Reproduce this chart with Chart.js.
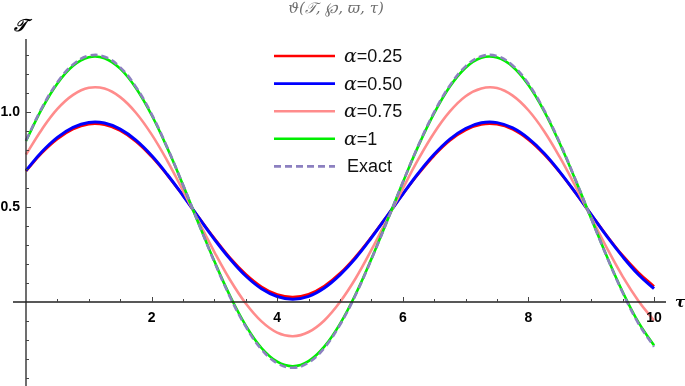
<!DOCTYPE html>
<html>
<head>
<meta charset="utf-8">
<script src="https://cdn.jsdelivr.net/npm/chart.js@4.4.1/dist/chart.umd.min.js"></script>
<style>
  html, body { margin: 0; padding: 0; background: #fff; }
  #wrap { width: 685px; height: 386px; position: relative; }
</style>
</head>
<body>
<div id="wrap"><canvas id="grafica" width="685" height="386"></canvas></div>
<script>
const tau = [0, 0.25, 0.5, 0.75, 1, 1.25, 1.5, 1.75, 2, 2.25, 2.5, 2.75, 3, 3.25, 3.5, 3.75, 4, 4.25, 4.5, 4.75, 5,
             5.25, 5.5, 5.75, 6, 6.25, 6.5, 6.75, 7, 7.25, 7.5, 7.75, 8, 8.25, 8.5, 8.75, 9, 9.25, 9.5, 9.75, 10];

const alpha025 = [0.689, 0.783, 0.858, 0.910, 0.936, 0.933, 0.902, 0.845, 0.765, 0.668, 0.560, 0.446, 0.335, 0.232, 0.146, 0.080, 0.039, 0.026, 0.041, 0.084, 0.151,
                  0.239, 0.342, 0.453, 0.567, 0.675, 0.771, 0.850, 0.905, 0.934, 0.935, 0.908, 0.854, 0.777, 0.682, 0.574, 0.461, 0.349, 0.245, 0.156, 0.082];
const alpha050 = [0.692, 0.789, 0.866, 0.919, 0.945, 0.942, 0.910, 0.852, 0.771, 0.671, 0.560, 0.444, 0.330, 0.226, 0.137, 0.070, 0.029, 0.015, 0.030, 0.074, 0.143,
                  0.232, 0.338, 0.452, 0.568, 0.679, 0.777, 0.857, 0.913, 0.943, 0.944, 0.916, 0.861, 0.783, 0.685, 0.575, 0.460, 0.345, 0.239, 0.145, 0.070];
const alpha075 = [0.776, 0.907, 1.016, 1.090, 1.127, 1.123, 1.078, 0.996, 0.882, 0.743, 0.586, 0.423, 0.263, 0.116, -0.008, -0.102, -0.161, -0.180, -0.158, -0.097, 0.000,
                  0.125, 0.274, 0.434, 0.597, 0.753, 0.891, 1.003, 1.083, 1.124, 1.126, 1.086, 1.009, 0.899, 0.762, 0.608, 0.445, 0.284, 0.135, 0.007, -0.098];
const alpha1 = [0.847, 1.015, 1.150, 1.243, 1.288, 1.283, 1.228, 1.126, 0.984, 0.810, 0.616, 0.412, 0.214, 0.031, -0.124, -0.242, -0.314, -0.338, -0.311, -0.235, -0.115,
                0.042, 0.227, 0.426, 0.629, 0.823, 0.994, 1.134, 1.233, 1.285, 1.286, 1.238, 1.142, 1.005, 0.834, 0.642, 0.440, 0.239, 0.054, -0.106, -0.228];
const exacta = [0.850, 1.020, 1.156, 1.250, 1.296, 1.291, 1.235, 1.132, 0.989, 0.813, 0.617, 0.412, 0.211, 0.026, -0.130, -0.249, -0.322, -0.346, -0.319, -0.242, -0.120,
                0.038, 0.224, 0.425, 0.630, 0.826, 0.999, 1.140, 1.240, 1.293, 1.294, 1.245, 1.148, 1.010, 0.838, 0.644, 0.439, 0.237, 0.050, -0.112, -0.235];

const etiquetas = ['α=0.25', 'α=0.50', 'α=0.75', 'α=1', 'Exact'];
const xTicks = [2, 4, 6, 8, 10];
const yTicks = [0.5, 1.0];

function puntos(ys) {
    var out = [];
    for (var i = 0; i < tau.length; i++) {
        out.push({x: tau[i], y: ys[i]});
    }
    return out;
}

// ejes estilo Mathematica, leyenda y titulos
const ejes = {
    id: 'ejes',
    afterDatasetsDraw(chart) {
        const c = chart.ctx;
        const sx = chart.scales.x, sy = chart.scales.y;
        const x0 = sx.getPixelForValue(0), y0 = sy.getPixelForValue(0);
        const area = chart.chartArea;
        c.save();
        c.strokeStyle = '#222';
        c.lineWidth = 1.3;
        c.beginPath();
        c.moveTo(area.left, y0); c.lineTo(area.right, y0);
        c.moveTo(x0, area.top); c.lineTo(x0, area.bottom);
        c.stroke();

        c.lineWidth = 1;
        c.strokeStyle = '#444';
        c.beginPath();
        for (var v = 0.5; v <= 10; v += 0.5) {
            var px = Math.round(sx.getPixelForValue(v)) + 0.5;
            var len = (Math.abs(v % 2) < 1e-6) ? 5 : 3;
            c.moveTo(px, y0); c.lineTo(px, y0 - len);
        }
        for (var k = -4; k <= 13; k++) {
            if (k === 0) continue;
            var py = Math.round(sy.getPixelForValue(k / 10)) + 0.5;
            var l = (k % 5 === 0) ? 5 : 3;
            c.moveTo(x0, py); c.lineTo(x0 + l, py);
        }
        c.stroke();

        c.fillStyle = '#000';
        c.font = 'bold 14px "Liberation Sans", Arial, sans-serif';
        c.textAlign = 'center';
        c.textBaseline = 'middle';
        xTicks.forEach(function(t) {
            c.fillText(String(t), sx.getPixelForValue(t), y0 + 16);
        });
        c.textAlign = 'right';
        yTicks.forEach(function(t) {
            c.fillText(t.toFixed(1), x0 - 6, sy.getPixelForValue(t));
        });

        // etiquetas de ejes
        c.font = 'italic bold 15px "DejaVu Serif", serif';
        c.textAlign = 'left';
        c.fillText('τ', area.right + 9, y0 + 1);
        c.font = 'italic bold 17px "DejaVu Serif", "Noto Sans", serif';
        c.textAlign = 'center';
        c.fillText('𝒯', 20, 27);

        // titulo
        c.fillStyle = '#6e6e6e';
        c.font = 'italic 15px "DejaVu Serif", serif';
        c.fillText('ϑ(𝒯, ℘, ϖ, τ)', 336, 9);

        // leyenda
        const ds = chart.data.datasets;
        for (var i = 0; i < ds.length; i++) {
            var yy = 56 + i * 27.6;
            c.strokeStyle = ds[i].borderColor;
            c.lineWidth = 2.6;
            c.setLineDash(ds[i].borderDash || []);
            c.beginPath();
            c.moveTo(274, yy); c.lineTo(335, yy);
            c.stroke();
            c.setLineDash([]);
            c.fillStyle = '#111';
            c.textAlign = 'left';
            var txt = etiquetas[i];
            if (txt.charAt(0) === 'α') {
                c.font = 'italic 19px "DejaVu Serif", serif';
                c.fillText('α', 344, yy + 1);
                var w = c.measureText('α').width;
                c.font = '18px "Liberation Sans", Arial, sans-serif';
                c.fillText(txt.slice(1), 344 + w, yy + 1);
            } else {
                c.font = '18px "Liberation Sans", Arial, sans-serif';
                c.fillText(txt, 347, yy + 1);
            }
        }
        c.restore();
    }
};

const ctx = document.getElementById('grafica');
new Chart(ctx, {
    type: 'line',
    data: {
        datasets: [{
            label: etiquetas[0],
            data: puntos(alpha025),
            borderColor: '#ff0000',
            borderWidth: 2.6,
            order: 5
        },
        {
            label: etiquetas[1],
            data: puntos(alpha050),
            borderColor: '#0000ff',
            borderWidth: 3,
            order: 4
        },
        {
            label: etiquetas[2],
            data: puntos(alpha075),
            borderColor: '#ff8c8c',
            borderWidth: 2.6,
            order: 3
        },
        {
            label: etiquetas[3],
            data: puntos(alpha1),
            borderColor: '#00ee00',
            borderWidth: 2.6,
            order: 2
        },
        {
            label: etiquetas[4],
            data: puntos(exacta),
            borderColor: '#8c80c0',
            borderWidth: 2.6,
            borderDash: [7, 4],
            order: 1
        }]
    },
    options: {
        responsive: false,
        animation: false,
        maintainAspectRatio: false,
        devicePixelRatio: 1,
        layout: { padding: { left: 13, right: 19, top: 39, bottom: 0 } },
        elements: {
            point: { radius: 0 },
            line: { tension: 0.4, fill: false }
        },
        plugins: {
            legend: { display: false },
            tooltip: { enabled: false }
        },
        scales: {
            x: { type: 'linear', min: -0.207, max: 10.191, display: false },
            y: { type: 'linear', min: -0.442, max: 1.384, display: false }
        }
    },
    plugins: [ejes]
});
</script>
</body>
</html>
